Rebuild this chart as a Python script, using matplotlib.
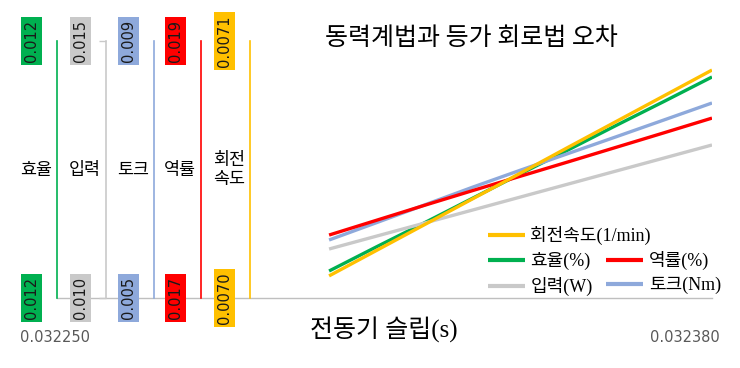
import matplotlib
matplotlib.use('Agg')
import matplotlib.pyplot as plt
from matplotlib.transforms import ScaledTranslation

KFONT = ['Noto Sans CJK KR', 'DejaVu Sans']
SFONT = ['Liberation Serif', 'Noto Sans CJK KR']
plt.rcParams['font.family'] = KFONT

# ---- data ----
slip = [0.032304, 0.0323135, 0.032323, 0.0323325, 0.032342,
        0.0323515, 0.032361, 0.0323705, 0.032380]
efficiency = [0.011863, 0.011920, 0.011976, 0.012033, 0.012090,
              0.012146, 0.012203, 0.012259, 0.012316]
input_power = [0.010953, 0.011206, 0.011459, 0.011712, 0.011965,
               0.012218, 0.012471, 0.012724, 0.012977]
torque = [0.005903, 0.006175, 0.006450, 0.006725, 0.006990,
          0.007250, 0.007510, 0.007772, 0.008035]
power_factor = [0.017490, 0.017606, 0.017722, 0.017836, 0.017948,
                0.018060, 0.018173, 0.018286, 0.018400]
speed = [0.0070086, 0.0070186, 0.0070286, 0.0070386, 0.0070486,
         0.0070587, 0.0070687, 0.0070787, 0.0070887]

series = [efficiency, input_power, torque, power_factor, speed]
axis_names = ['효율', '입력', '토크', '역률', '회전\n속도']
legend_labels = ['효율(%)', '입력(W)', '토크(Nm)', '역률(%)', '회전속도(1/min)']
colors = ['#00B050', '#C9C9C9', '#8EA9DB', '#FF0000', '#FFC000']
y_limits = [(0.0118, 0.0124), (0.010, 0.015), (0.005, 0.009),
            (0.017, 0.019), (0.0070, 0.0071)]
y_formats = ['%.3f', '%.3f', '%.3f', '%.3f', '%.4f']
x_limits = (0.032250, 0.032380)
x_tick_labels = ['0.032250', '0.032380']
title = '동력계법과 등가 회로법 오차'
x_label = '전동기 슬립(s)'

# ---- layout ----
W, H = 740, 368
fig = plt.figure(figsize=(W / 100, H / 100), dpi=100)
ax_left, ax_right, ax_top, ax_bottom = 57, 712, 41, 298
ax0 = fig.add_axes([ax_left / W, 1 - ax_bottom / H,
                    (ax_right - ax_left) / W, (ax_bottom - ax_top) / H])
spine_px = [57, 106, 154, 201, 250]
spine_pos = [(p - ax_left) / (ax_right - ax_left) for p in spine_px]

ax0.set_xlim(*x_limits)
ax0.set_yticks([])
for s in ['left', 'right', 'top']:
    ax0.spines[s].set_visible(False)
ax0.spines['bottom'].set_color('#BFBFBF')
ax0.spines['bottom'].set_linewidth(1.0)
ax0.set_xticks([])

# x tick labels as text at the axis ends
offsets = [-2, -27]
for xv, lab, off in zip(x_limits, x_tick_labels, offsets):
    tr = ax0.get_xaxis_transform() + ScaledTranslation(off / 100, -39 / 100, fig.dpi_scale_trans)
    ax0.text(xv, 0, lab, transform=tr, ha='center', va='center',
             fontsize=10.5, color='#595959', family=['DejaVu Sans'])

lines = []
for i, (vals, name, col, lim, fmt, pos) in enumerate(
        zip(series, axis_names, colors, y_limits, y_formats, spine_pos)):
    tw = ax0.twinx()
    tw.set_ylim(*lim)
    for s in ['right', 'top', 'bottom']:
        tw.spines[s].set_visible(False)
    tw.spines['left'].set_visible(True)
    tw.spines['left'].set_position(('axes', pos))
    tw.spines['left'].set_color(col)
    tw.spines['left'].set_linewidth(1.2)
    tw.yaxis.set_ticks_position('left')
    tw.set_yticks(list(lim))
    tw.set_yticklabels([fmt % v for v in lim])
    if i == 1:
        tw.tick_params(axis='y', length=5, width=1, color=col, direction='out',
                       pad=8, labelrotation=90, labelsize=10.5, labelcolor='#1a1a1a')
    else:
        tw.tick_params(axis='y', length=0, pad=13, labelrotation=90,
                       labelsize=10.5, labelcolor='#1a1a1a')
    for t in tw.get_yticklabels():
        t.set_family(['DejaVu Sans'])
        t.set_va('center')
        t.set_bbox(dict(boxstyle='square,pad=0.2', fc=col, ec='none'))
    ln, = tw.plot(slip, vals, color=col, lw=2.4, solid_capstyle='butt')
    lines.append(ln)
    tr = tw.transAxes + ScaledTranslation(-5 / 100, 0, fig.dpi_scale_trans)
    tw.text(pos, 0.5, name, transform=tr, ha='right', va='center',
            fontsize=12.5, color='#000000', multialignment='center',
            linespacing=1.1, fontweight='medium')

# title and x label
fig.text(471 / W, 1 - 38 / H, title, ha='center', va='center',
         fontsize=18, color='#000000')
fig.text(384 / W, 1 - 330 / H, x_label, ha='center', va='center',
         fontsize=18, color='#000000', family=SFONT)

# legends
leg_kw = dict(frameon=False, borderpad=0, borderaxespad=0,
              handlelength=2.05, handletextpad=0.3, labelspacing=0.38,
              prop={'family': SFONT, 'size': 13})
leg1 = fig.legend([lines[4]], [legend_labels[4]], loc='upper left',
                  bbox_to_anchor=(488 / W, 1 - 226 / H), **leg_kw)
leg2 = fig.legend([lines[0], lines[1], lines[3], lines[2]],
                  [legend_labels[0], legend_labels[1], legend_labels[3], legend_labels[2]],
                  loc='upper left', ncol=2, columnspacing=0.75,
                  bbox_to_anchor=(488 / W, 1 - 251 / H), **leg_kw)
for lg in (leg1, leg2):
    for h in lg.legend_handles:
        h.set_linewidth(3)

fig.savefig('out.png', dpi=100)
